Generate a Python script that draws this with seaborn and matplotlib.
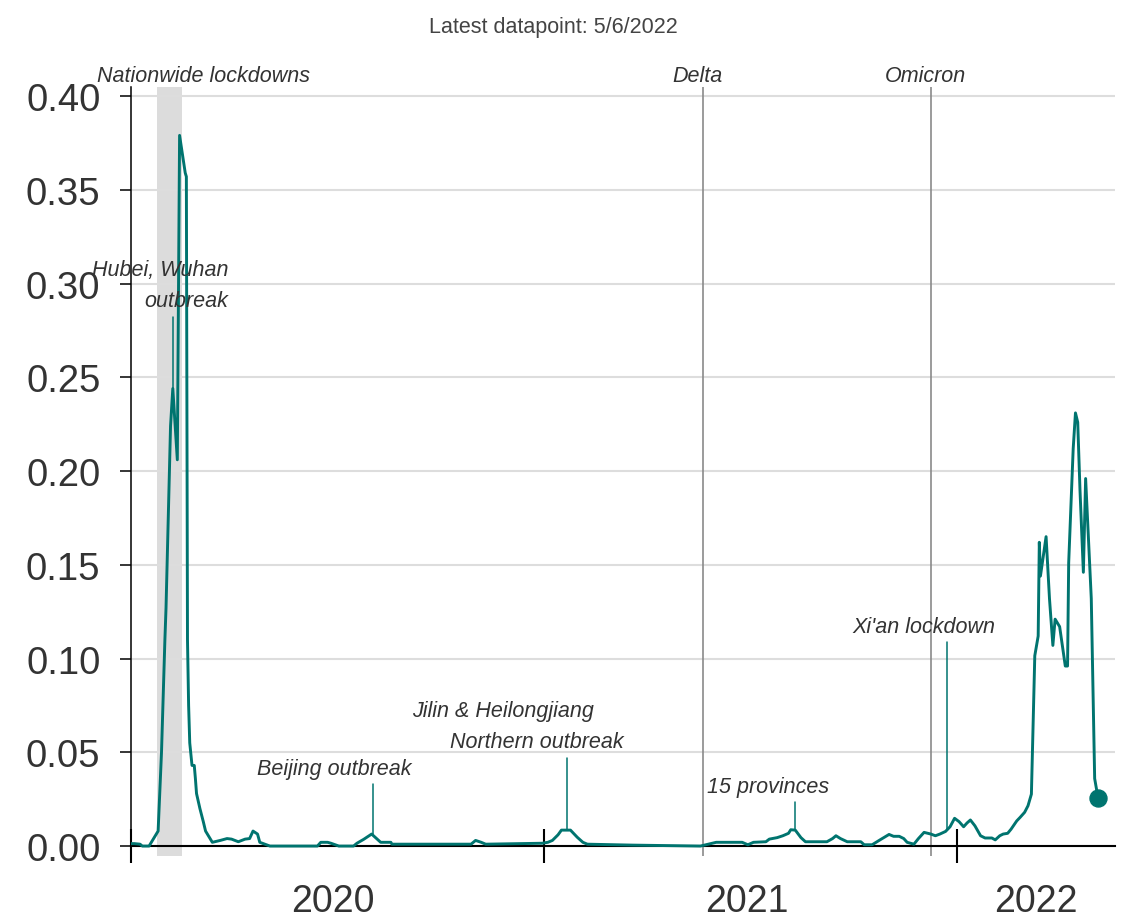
import matplotlib
matplotlib.use("Agg")
import matplotlib.pyplot as plt
import matplotlib.dates as mdates
import matplotlib.transforms as mtransforms
import numpy as np
import pandas as pd
import seaborn as sns

# ---------------- data ----------------
dates = [
    "2020-01-01", "2020-01-04", "2020-01-09", "2020-01-11", "2020-01-17", "2020-01-25",
    "2020-01-28", "2020-01-31", "2020-02-01", "2020-02-04", "2020-02-05", "2020-02-07",
    "2020-02-09", "2020-02-11", "2020-02-13", "2020-02-18", "2020-02-19", "2020-02-20",
    "2020-02-21", "2020-02-22", "2020-02-24", "2020-02-26", "2020-02-27", "2020-02-28",
    "2020-03-02", "2020-03-05", "2020-03-07", "2020-03-10", "2020-03-13", "2020-03-20",
    "2020-03-26", "2020-03-30", "2020-04-05", "2020-04-11", "2020-04-15", "2020-04-18",
    "2020-04-22", "2020-04-24", "2020-05-03", "2020-06-14", "2020-06-17", "2020-06-23",
    "2020-06-26", "2020-07-03", "2020-07-16", "2020-07-19", "2020-07-25", "2020-08-01",
    "2020-08-06", "2020-08-09", "2020-08-18", "2020-08-19", "2020-10-28", "2020-11-01",
    "2020-11-06", "2020-11-10", "2020-12-30",
    "2021-01-04", "2021-01-08", "2021-01-13", "2021-01-16", "2021-01-24", "2021-01-30",
    "2021-02-04", "2021-02-08", "2021-03-20", "2021-05-19", "2021-06-02", "2021-06-25",
    "2021-06-30", "2021-07-05", "2021-07-16", "2021-07-19", "2021-07-26", "2021-07-31",
    "2021-08-05", "2021-08-07", "2021-08-11", "2021-08-16", "2021-08-20", "2021-09-08",
    "2021-09-13", "2021-09-16", "2021-09-20", "2021-09-26", "2021-10-08", "2021-10-11",
    "2021-10-18", "2021-10-25", "2021-11-02", "2021-11-06", "2021-11-11", "2021-11-15",
    "2021-11-18", "2021-11-24", "2021-11-28", "2021-12-03", "2021-12-09", "2021-12-13",
    "2021-12-17", "2021-12-22", "2021-12-26", "2021-12-30",
    "2022-01-03", "2022-01-07", "2022-01-10", "2022-01-13", "2022-01-17", "2022-01-22",
    "2022-01-26", "2022-02-01", "2022-02-04", "2022-02-08", "2022-02-11", "2022-02-15",
    "2022-02-18", "2022-02-23", "2022-02-26", "2022-03-02", "2022-03-05", "2022-03-08",
    "2022-03-11", "2022-03-14", "2022-03-15", "2022-03-16", "2022-03-21", "2022-03-24",
    "2022-03-27", "2022-03-29", "2022-04-02", "2022-04-07", "2022-04-09", "2022-04-10",
    "2022-04-14", "2022-04-16", "2022-04-18", "2022-04-20", "2022-04-23", "2022-04-25",
    "2022-04-30", "2022-05-03", "2022-05-06",
]
values = [
    0.0013, 0.0013, 0.001, 0.0, 0.0, 0.008,
    0.05, 0.11, 0.127, 0.20, 0.224, 0.244,
    0.225, 0.206, 0.379, 0.359, 0.357, 0.11,
    0.075, 0.055, 0.043, 0.043, 0.036, 0.028,
    0.02, 0.013, 0.008, 0.005, 0.002, 0.003,
    0.004, 0.0037, 0.0023, 0.0037, 0.004, 0.008,
    0.0064, 0.002, 0.0, 0.0, 0.002, 0.002,
    0.0015, 0.0, 0.0, 0.0015, 0.0036, 0.0064,
    0.0036, 0.002, 0.002, 0.001, 0.001, 0.003,
    0.002, 0.001, 0.0015,
    0.002, 0.003, 0.006, 0.0085, 0.0085, 0.0047,
    0.002, 0.001, 0.0005, 0.0, 0.002, 0.002,
    0.0007, 0.002, 0.0023, 0.0037, 0.0045, 0.0055,
    0.0068, 0.0087, 0.0085, 0.0045, 0.0023, 0.0023,
    0.004, 0.0055, 0.004, 0.0023, 0.0023, 0.0007,
    0.0007, 0.0033, 0.0062, 0.0052, 0.0052, 0.004,
    0.002, 0.001, 0.004, 0.0073, 0.0064, 0.0055,
    0.0064, 0.0078, 0.0103, 0.0148,
    0.013, 0.0103, 0.0123, 0.0139, 0.0108, 0.0055,
    0.0043, 0.0043, 0.0033, 0.0055, 0.0064, 0.0068,
    0.009, 0.0134, 0.0153, 0.018, 0.0215, 0.0277,
    0.1015, 0.112, 0.162, 0.144, 0.165, 0.132,
    0.107, 0.121, 0.117, 0.096, 0.096, 0.151,
    0.212, 0.231, 0.226, 0.19, 0.146, 0.196,
    0.132, 0.036, 0.0256,
]

# variant events (vertical gray lines)
variant_dates = ["2021-05-21", "2021-12-09"]
variant_labels = ["Delta", "Omicron"]

# lockdown period (shaded)
lockdown_label = "Nationwide lockdowns"
lockdown_start = "2020-01-24"
lockdown_end = "2020-02-15"

# event annotations (stems)
annot_dates = ["2020-02-07", "2020-08-02", "2021-01-21", "2021-08-11", "2021-12-23"]
annot_bottom = [0.244, 0.0064, 0.0086, 0.0088, 0.0085]
annot_top = [0.282, 0.033, 0.047, 0.0235, 0.109]

# annotation text lines
annot_texts = ["Hubei, Wuhan", "outbreak", "Beijing outbreak", "Jilin & Heilongjiang",
               "Northern outbreak", "15 provinces", "Xi'an lockdown"]
annot_text_dates = ["2020-03-27", "2020-03-27", "2020-06-29", "2020-11-25",
                    "2020-12-25", "2021-07-18", "2021-12-03"]
annot_text_vals = [0.3077, 0.2907, 0.0416, 0.0725, 0.056, 0.032, 0.1173]
annot_text_ha = ["right", "right", "center", "center", "center", "center", "center"]

y_ticks = [0.0, 0.05, 0.10, 0.15, 0.20, 0.25, 0.30, 0.35, 0.40]
year_bounds = ["2020-01-01", "2021-01-01", "2022-01-01"]
year_label_dates = ["2020-06-28", "2021-06-29", "2022-03-12"]
year_labels = ["2020", "2021", "2022"]
title_text = "Latest datapoint: 5/6/2022"

# ---------------- style ----------------
sns.set_theme(style="white")
plt.rcParams["font.family"] = ["Liberation Sans", "DejaVu Sans"]

LINE = "#00746f"
TXT = "#333333"

df = pd.DataFrame({"date": pd.to_datetime(dates), "value": values})

fig = plt.figure(figsize=(11.27, 9.20), dpi=100)
ax = fig.add_axes([131 / 1127, 1 - 857 / 920, (1115 - 131) / 1127, (857 - 88) / 920])

ax.axvspan(pd.Timestamp(lockdown_start), pd.Timestamp(lockdown_end),
           color="#dcdcdc", zorder=0, lw=0)

for d in variant_dates:
    ax.axvline(pd.Timestamp(d), color="#8a8a8a", lw=1.2, zorder=1)

sns.lineplot(data=df, x="date", y="value", color=LINE, lw=2.1, ax=ax, zorder=4)
sns.scatterplot(data=df.iloc[[-1]], x="date", y="value", color=LINE, s=150,
                edgecolor=LINE, ax=ax, zorder=5)

for d, b, t in zip(annot_dates, annot_bottom, annot_top):
    ax.plot([pd.Timestamp(d)] * 2, [b, t], color=LINE, lw=1.1, zorder=3)

for txt, d, v, ha in zip(annot_texts, annot_text_dates, annot_text_vals, annot_text_ha):
    ax.text(pd.Timestamp(d), v, txt, ha=ha, va="center", fontsize=15.5,
            style="italic", color=TXT, zorder=6)

# top labels
top_tr = mtransforms.blended_transform_factory(ax.transData, ax.transAxes)
label_x = [pd.Timestamp("2020-03-05"), pd.Timestamp("2021-05-16"), pd.Timestamp("2021-12-04")]
for txt, x in zip([lockdown_label] + variant_labels, label_x):
    ax.text(x, 1.0 + 11 / 769, txt, transform=top_tr, ha="center", va="center",
            fontsize=15.5, style="italic", color=TXT, clip_on=False)

ax.set_xlim(pd.Timestamp("2020-01-01"), pd.Timestamp("2022-05-21"))
ax.set_ylim(-0.0053, 0.4048)

ax.set_yticks(y_ticks)
ax.set_yticklabels([f"{v:.2f}" for v in y_ticks])
ax.yaxis.grid(True, color="#dddddd", lw=1.5)
ax.xaxis.grid(False)
ax.set_axisbelow(True)

ax.set_xticks([pd.Timestamp(d) for d in year_bounds])
ax.set_xticklabels([])
ax.set_xticks([pd.Timestamp(d) for d in year_label_dates], minor=True)
ax.set_xticklabels(year_labels, minor=True)
ax.tick_params(axis="x", which="major", direction="inout", length=24, width=1.5,
               color="black", bottom=True)
ax.tick_params(axis="x", which="minor", length=0, pad=26.5, bottom=True,
               labelsize=27, labelcolor=TXT)
ax.tick_params(axis="y", direction="out", length=8, width=1.1, color="black",
               pad=14, left=True, labelsize=27.5, labelcolor=TXT)

ax.set_xlabel("")
ax.set_ylabel("")

for s in ["top", "right"]:
    ax.spines[s].set_visible(False)
ax.spines["left"].set_color("black")
ax.spines["left"].set_linewidth(1.1)
ax.spines["bottom"].set_color("black")
ax.spines["bottom"].set_linewidth(1.5)
ax.spines["bottom"].set_position(("data", 0))
ax.spines["bottom"].set_zorder(3)

fig.text(553 / 1127, 1 - 28 / 920, title_text, ha="center", va="center",
         fontsize=15.5, color="#444444")

fig.savefig("out.png", dpi=100)
